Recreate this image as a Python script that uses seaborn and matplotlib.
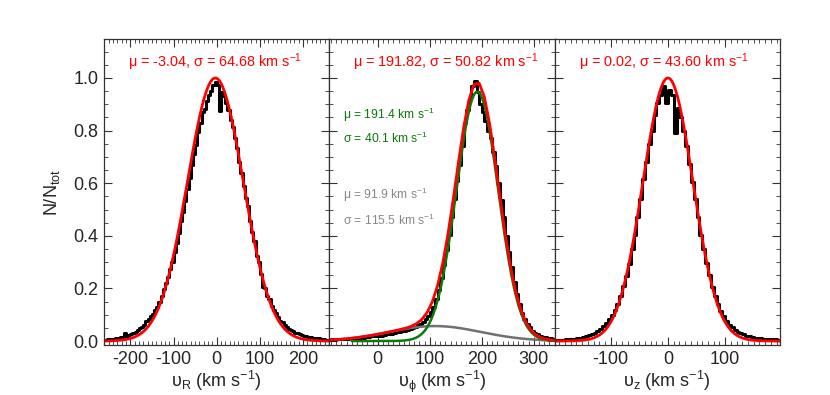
import numpy as np
import pandas as pd
import matplotlib
matplotlib.use("Agg")
import matplotlib.pyplot as plt
import seaborn as sns
from matplotlib.ticker import MultipleLocator

# ---------------- data ----------------
# v_R histogram, 5 km/s bins from -260 to 260
vr_edges = np.arange(-260, 261, 5)
vr_counts = [
    0.004, 0.006, 0.005, 0.009, 0.008, 0.011, 0.010, 0.014, 0.016, 0.030,
    0.020, 0.024, 0.028, 0.031, 0.036, 0.041, 0.048, 0.052, 0.062, 0.075,
    0.082, 0.095, 0.104, 0.118, 0.130, 0.148, 0.170, 0.196, 0.222, 0.244,
    0.275, 0.300, 0.338, 0.372, 0.410, 0.455, 0.492, 0.532, 0.578, 0.620,
    0.668, 0.712, 0.745, 0.795, 0.830, 0.870, 0.882, 0.912, 0.935, 0.950,
    0.972, 0.985, 0.975, 0.875, 0.945, 0.930, 0.905, 0.878, 0.842, 0.815,
    0.770, 0.735, 0.680, 0.640, 0.590, 0.545, 0.512, 0.455, 0.415, 0.380,
    0.325, 0.300, 0.255, 0.205, 0.200, 0.172, 0.158, 0.135, 0.118, 0.106,
    0.092, 0.078, 0.072, 0.062, 0.055, 0.047, 0.043, 0.038, 0.032, 0.030,
    0.025, 0.023, 0.020, 0.018, 0.015, 0.016, 0.012, 0.011, 0.009, 0.010,
    0.007, 0.006, 0.005, 0.004,
]

# v_phi histogram, 5 km/s bins from -95 to 345
vphi_edges = np.arange(-95, 346, 5)
vphi_counts = [
    0.004, 0.006, 0.005, 0.007, 0.006, 0.008, 0.009, 0.008, 0.010, 0.012,
    0.011, 0.013, 0.014, 0.013, 0.016, 0.015, 0.018, 0.020, 0.019, 0.022,
    0.021, 0.024, 0.026, 0.028, 0.027, 0.031, 0.033, 0.035, 0.038, 0.040,
    0.043, 0.046, 0.050, 0.054, 0.060, 0.066, 0.074, 0.083, 0.095, 0.110,
    0.130, 0.160, 0.195, 0.240, 0.290, 0.345, 0.405, 0.470, 0.540, 0.610,
    0.670, 0.740, 0.830, 0.880, 0.920, 0.970, 0.990, 0.945, 0.900, 0.870,
    0.835, 0.800, 0.770, 0.720, 0.665, 0.600, 0.535, 0.470, 0.400, 0.340,
    0.280, 0.225, 0.180, 0.140, 0.108, 0.085, 0.065, 0.052, 0.040, 0.032,
    0.026, 0.020, 0.017, 0.014, 0.012, 0.010, 0.008, 0.007,
]

# v_z histogram, 5 km/s bins from -200 to 200
vz_edges = np.arange(-200, 201, 5)
vz_counts = [
    0.003, 0.004, 0.004, 0.005, 0.006, 0.006, 0.008, 0.009, 0.010, 0.013,
    0.015, 0.020, 0.022, 0.028, 0.032, 0.040, 0.046, 0.058, 0.068, 0.082,
    0.098, 0.118, 0.142, 0.172, 0.208, 0.248, 0.292, 0.350, 0.405, 0.472,
    0.540, 0.615, 0.680, 0.748, 0.800, 0.858, 0.905, 0.935, 0.968, 0.905,
    0.955, 0.935, 0.790, 0.885, 0.850, 0.800, 0.740, 0.672, 0.605, 0.540,
    0.470, 0.405, 0.350, 0.298, 0.250, 0.205, 0.170, 0.140, 0.115, 0.095,
    0.078, 0.062, 0.052, 0.042, 0.036, 0.030, 0.025, 0.021, 0.018, 0.016,
    0.013, 0.012, 0.010, 0.009, 0.008, 0.008, 0.007, 0.006, 0.005, 0.005,
]

# Gaussian fit parameters shown on the chart
fit_r = {"mu": -3.04, "sigma": 64.68}
fit_phi = {"mu": 191.82, "sigma": 50.82}
fit_z = {"mu": 0.02, "sigma": 43.60}
thin = {"mu": 191.4, "sigma": 40.1, "amp": 0.948}
thick = {"mu": 91.9, "sigma": 115.5}
thick_curve = {"mu": 110.0, "sigma": 88.0, "amp": 0.057}

xlabels = ["υ$_{\\mathrm{R}}$ (km s$^{-1}$)",
           "υ$_{ϕ}$ (km s$^{-1}$)",
           "υ$_{\\mathrm{z}}$ (km s$^{-1}$)"]
xlims = [(-261, 261), (-93, 340), (-198, 196)]

# ---------------- style ----------------
sns.set_style("ticks")
plt.rcParams["font.family"] = ["Liberation Sans", "DejaVu Sans"]
plt.rcParams["axes.unicode_minus"] = False
plt.rcParams["mathtext.default"] = "regular"
plt.rcParams["mathtext.fontset"] = "custom"
plt.rcParams["mathtext.rm"] = "Liberation Sans"
plt.rcParams["mathtext.it"] = "Liberation Sans:italic"

RED = "#ff0000"
GREEN = "#0a7a0a"
GREY_LINE = "#707070"
GREY_TEXT = "#888888"
SPINE = "#333333"


def gauss(x, mu, sigma, amp=1.0):
    return amp * np.exp(-(x - mu) ** 2 / (2.0 * sigma ** 2))


fig = plt.figure(figsize=(8.3, 3.95), dpi=100)
axes = fig.subplots(1, 3, sharey=True, gridspec_kw=dict(wspace=0))
fig.subplots_adjust(left=0.1253, right=0.9398, top=0.9005, bottom=0.1266)

hists = [(vr_edges, vr_counts), (vphi_edges, vphi_counts), (vz_edges, vz_counts)]
fits = [fit_r, fit_phi, fit_z]

for i, ax in enumerate(axes):
    edges, counts = hists[i]
    centers = 0.5 * (edges[:-1] + edges[1:])
    df = pd.DataFrame({"v": centers, "n": counts})
    sns.histplot(data=df, x="v", weights="n", bins=[float(e) for e in edges],
                 element="step", fill=False, color="black", linewidth=2.2, ax=ax)

    lo, hi = xlims[i]
    if i == 1:
        xg = np.linspace(-93, 340, 300)
        sns.lineplot(x=xg, y=gauss(xg, thick_curve["mu"], thick_curve["sigma"],
                                   thick_curve["amp"]),
                     color=GREY_LINE, linewidth=1.8, ax=ax)
        xm = np.linspace(-50, 340, 300)
        sns.lineplot(x=xm, y=gauss(xm, thin["mu"], thin["sigma"], thin["amp"]),
                     color=GREEN, linewidth=1.8, ax=ax)
        xr = np.arange(-95, 346, 10.0)
        yr = (gauss(xr, thin["mu"], thin["sigma"], thin["amp"])
              + gauss(xr, thick_curve["mu"], thick_curve["sigma"], thick_curve["amp"]))
        sns.lineplot(x=xr, y=yr, color=RED, linewidth=2.0, ax=ax)
    else:
        xr = np.linspace(lo - 5, hi + 5, 400)
        sns.lineplot(x=xr, y=gauss(xr, fits[i]["mu"], fits[i]["sigma"]),
                     color=RED, linewidth=2.0, ax=ax)

    f = fits[i]
    ax.text(0.107, 0.926,
            "μ = %.2f, σ = %.2f km s$^{-1}$" % (f["mu"], f["sigma"]),
            transform=ax.transAxes, color=RED, fontsize=10.4, va="center", ha="left")

    ax.set_xlim(lo, hi)
    ax.set_ylim(-0.015, 1.147)
    ax.xaxis.set_major_locator(MultipleLocator(100))
    ax.xaxis.set_minor_locator(MultipleLocator(10))
    ax.yaxis.set_major_locator(MultipleLocator(0.2))
    ax.yaxis.set_minor_locator(MultipleLocator(0.05))
    ax.tick_params(which="both", direction="in", top=True, right=True,
                   color=SPINE, labelsize=13, pad=4)
    ax.tick_params(which="major", length=6, width=0.8)
    ax.tick_params(which="minor", length=3, width=0.6)
    for s in ax.spines.values():
        s.set_color(SPINE)
        s.set_linewidth(0.9)
    ax.set_xlabel(xlabels[i], fontsize=13, labelpad=1)
    ax.set_ylabel("")

axes[0].set_ylabel("N/N$_{\\mathrm{tot}}$", fontsize=13, labelpad=8)
axes[0].yaxis.set_major_formatter(matplotlib.ticker.FormatStrFormatter("%.1f"))

ax = axes[1]
ax.text(0.062, 0.752, "μ = %.1f km s$^{-1}$" % thin["mu"], transform=ax.transAxes,
        color=GREEN, fontsize=8.7, va="center")
ax.text(0.062, 0.677, "σ = %.1f km s$^{-1}$" % thin["sigma"], transform=ax.transAxes,
        color=GREEN, fontsize=8.7, va="center")
ax.text(0.062, 0.491, "μ = %.1f km s$^{-1}$" % thick["mu"], transform=ax.transAxes,
        color=GREY_TEXT, fontsize=8.7, va="center")
ax.text(0.062, 0.409, "σ = %.1f km s$^{-1}$" % thick["sigma"], transform=ax.transAxes,
        color=GREY_TEXT, fontsize=8.7, va="center")

fig.savefig("out.png", dpi=100)
